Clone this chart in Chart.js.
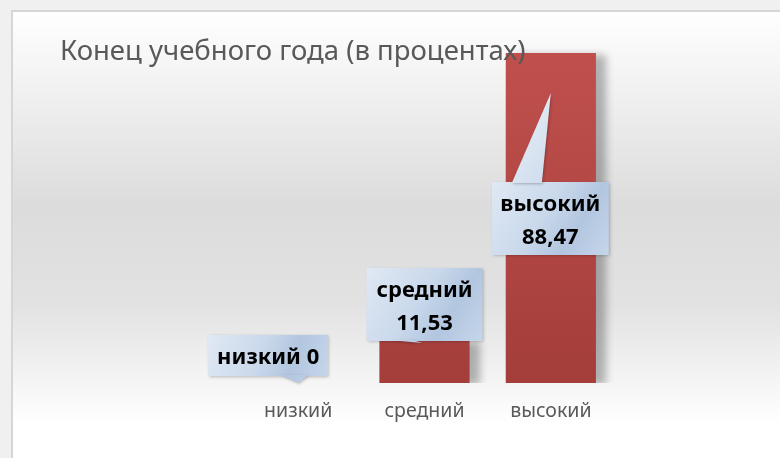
<!DOCTYPE html>
<html>
<head>
<meta charset="utf-8">
<script src="https://cdn.jsdelivr.net/npm/chart.js@4.4.0/dist/chart.umd.min.js"></script>
<style>
  html, body { margin: 0; padding: 0; background: #f0f0f0; }
  #wrap { width: 780px; height: 458px; position: relative; }
</style>
</head>
<body>
<div id="wrap"><canvas id="myChart" width="780" height="458"></canvas></div>
<script>
const titleText = "Конец учебного года (в процентах)";
const categories = ["низкий", "средний", "высокий"];
const values = [0, 11.53, 88.47];
const valueLabels = ["0", "11,53", "88,47"];

// callout boxes, relative to the top centre of each bar
const callouts = [
  { box: [-90, -48, 120, 41], base: [-18, 10], side: "bottom", tip: [0, 0], oneLine: true },
  { box: [-58, -72, 116, 73], base: [-35, -12], side: "bottom", tip: [-2, 3] },
  { box: [-59, 129, 117, 73], base: [-39, -9], side: "top", tip: [0, 40] },
];

const FONT = "'Noto Sans', 'DejaVu Sans', sans-serif";

const backdrop = {
  id: "backdrop",
  beforeDraw(chart) {
    const ctx = chart.ctx;
    ctx.save();
    ctx.fillStyle = "#f0f0f0";
    ctx.fillRect(0, 0, chart.width, chart.height);
    const g = ctx.createLinearGradient(0, 10, 0, 445);
    g.addColorStop(0, "#ffffff");
    g.addColorStop(0.12, "#f6f6f6");
    g.addColorStop(0.45, "#dcdcdc");
    g.addColorStop(0.68, "#e2e2e2");
    g.addColorStop(0.95, "#ffffff");
    g.addColorStop(1, "#ffffff");
    ctx.fillStyle = g;
    ctx.fillRect(12, 11, chart.width, chart.height);
    ctx.strokeStyle = "#d6d6d6";
    ctx.lineWidth = 2;
    ctx.beginPath();
    ctx.moveTo(12, chart.height);
    ctx.lineTo(12, 11);
    ctx.lineTo(chart.width, 11);
    ctx.stroke();
    ctx.restore();
  },
  beforeDatasetsDraw(chart) {
    const ctx = chart.ctx;
    ctx.save();
    ctx.shadowColor = "rgba(0,0,0,0.28)";
    ctx.shadowBlur = 8;
    ctx.shadowOffsetX = 10;
    ctx.shadowOffsetY = 2;
  },
  afterDatasetsDraw(chart) {
    chart.ctx.restore();
    const ctx = chart.ctx;

    // title sits over the tall bar, like in the original
    ctx.save();
    ctx.fillStyle = "#595959";
    ctx.font = "27.5px " + FONT;
    ctx.textBaseline = "alphabetic";
    ctx.fillText(titleText, 60, 60);
    ctx.restore();

    const meta = chart.getDatasetMeta(0);
    meta.data.forEach((bar, i) => {
      const c = callouts[i];
      const ax = bar.x, ay = bar.y;
      const bx = ax + c.box[0], by = ay + c.box[1], bw = c.box[2], bh = c.box[3];
      const edge = c.side === "top" ? by : by + bh;
      ctx.save();
      ctx.shadowColor = "rgba(0,0,0,0.25)";
      ctx.shadowBlur = 3;
      ctx.shadowOffsetX = 1;
      ctx.shadowOffsetY = 1;
      const g = ctx.createLinearGradient(bx, by, bx + bw, by + bh);
      g.addColorStop(0, "#e0e9f4");
      g.addColorStop(0.45, "#c9d8eb");
      g.addColorStop(0.7, "#b2c6e0");
      g.addColorStop(1, "#c6d6ea");
      ctx.fillStyle = g;
      ctx.beginPath();
      ctx.rect(bx, by, bw, bh);
      ctx.fill();
      ctx.beginPath();
      ctx.moveTo(ax + c.base[0], edge + (c.side === "top" ? 1 : -1));
      ctx.lineTo(ax + c.tip[0], ay + c.tip[1]);
      ctx.lineTo(ax + c.base[1], edge + (c.side === "top" ? 1 : -1));
      ctx.closePath();
      ctx.fill();
      ctx.restore();

      ctx.save();
      ctx.fillStyle = "#000000";
      ctx.font = "bold 22px " + FONT;
      ctx.textAlign = "center";
      ctx.textBaseline = "alphabetic";
      const cx = bx + bw / 2;
      if (c.oneLine) {
        ctx.fillText(categories[i] + " " + valueLabels[i], cx, by + 29);
      } else {
        ctx.fillText(categories[i], cx, by + 29);
        ctx.fillText(valueLabels[i], cx, by + 62);
      }
      ctx.restore();
    });
  },
};

const ctx = document.getElementById("myChart").getContext("2d");
const chart = new Chart(ctx, {
  type: "bar",
  data: {
    labels: categories,
    datasets: [
      {
        data: values,
        backgroundColor: (context) => {
          const area = context.chart.chartArea;
          if (!area) return "#b44744";
          const g = context.chart.ctx.createLinearGradient(0, area.top, 0, area.bottom);
          g.addColorStop(0, "#c4524f");
          g.addColorStop(1, "#a33e3b");
          return g;
        },
        borderWidth: 0,
        barPercentage: 0.714,
        categoryPercentage: 1,
      },
    ],
  },
  options: {
    responsive: false,
    animation: false,
    layout: { padding: { left: 235, right: 166, top: 10, bottom: 0 } },
    plugins: {
      legend: { display: false },
      title: { display: false },
      tooltip: { enabled: false },
    },
    scales: {
      x: {
        grid: { display: false, drawTicks: false },
        border: { display: false },
        ticks: { color: "#595959", font: { family: FONT, size: 19.5 }, padding: 17 },
        afterFit: (scale) => { scale.height = 75; },
      },
      y: { display: false, min: 0, max: 100 },
    },
  },
  plugins: [backdrop],
});
</script>
</body>
</html>
